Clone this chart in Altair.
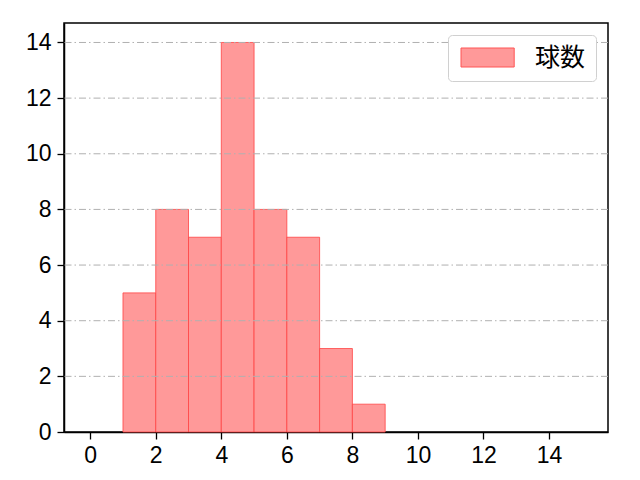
import altair as alt
import pandas as pd

# histogram bins (width 1) and counts
bin_start = [1, 2, 3, 4, 5, 6, 7, 8]
bin_end = [2, 3, 4, 5, 6, 7, 8, 9]
counts = [5, 8, 7, 14, 8, 7, 3, 1]
series = "球数"

x_ticks = [0, 2, 4, 6, 8, 10, 12, 14]
y_ticks = [0, 2, 4, 6, 8, 10, 12, 14]
grid_lines = [2, 4, 6, 8, 10, 12, 14]

FONT = "Liberation Sans"
CJK_FONT = "Noto Sans CJK JP"

df = pd.DataFrame({
    "start": bin_start,
    "end": bin_end,
    "count": counts,
    "series": [series] * len(counts),
})
grid_df = pd.DataFrame({"g": grid_lines})

x_scale = alt.Scale(domain=[-0.8, 15.8], nice=False, zero=False)
y_scale = alt.Scale(domain=[0, 14.7], nice=False)

bars = (
    alt.Chart(df)
    .mark_rect(fill="#ff9999", stroke="#ff4444", strokeWidth=1, strokeOpacity=0.8)
    .encode(
        x=alt.X(
            "start:Q",
            title=None,
            scale=x_scale,
            axis=alt.Axis(values=x_ticks, grid=False, format="d"),
        ),
        x2="end:Q",
        y=alt.Y(
            "count:Q",
            title=None,
            scale=y_scale,
            axis=alt.Axis(values=y_ticks, grid=False, format="d", labelPadding=6),
        ),
        y2=alt.datum(0),
        color=alt.Color(
            "series:N",
            scale=alt.Scale(domain=[series], range=["#ff9999"]),
            legend=alt.Legend(
                title=None,
                orient="top-right",
                offset=12,
                # wide patch drawn from a small layout symbol
                symbolType="M-1,-1H4.6V1H-1Z",
                symbolSize=361,
                symbolStrokeColor="#ff5555",
                symbolStrokeWidth=1,
                symbolOpacity=1,
                labelFont=CJK_FONT,
                labelFontSize=25,
                labelColor="black",
                labelOffset=52,
                padding=10,
                strokeColor="#d0d0d0",
                cornerRadius=4,
                fillColor="white",
            ),
        ),
    )
)

# dash-dot grid drawn over the bars, as in the picture
grid = (
    alt.Chart(grid_df)
    .mark_rule(color="#b0b0b0", strokeWidth=1, strokeDash=[7, 3, 1.5, 3])
    .encode(y=alt.Y("g:Q", scale=y_scale))
)

chart = (
    alt.layer(bars, grid)
    .properties(
        width=544,
        height=409,
        autosize=alt.AutoSizeParams(type="none"),
        padding={"left": 56, "top": 15, "right": 24, "bottom": 40},
    )
    .configure_view(stroke="black", strokeWidth=1.5)
    .configure_axis(
        domainColor="black",
        domainWidth=1.5,
        tickColor="black",
        tickSize=7,
        tickWidth=1.3,
        labelFont=FONT,
        labelFontSize=23,
        labelColor="black",
        labelPadding=5,
    )
    .configure_axisX(labelAngle=0)
)

chart.save("out.html", embed_options={"renderer": "svg", "actions": False})
